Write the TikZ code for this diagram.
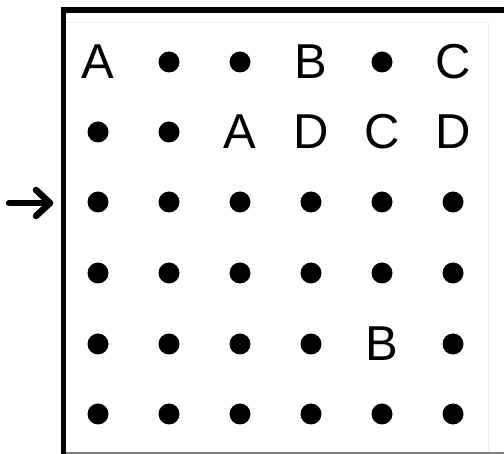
\documentclass[tikz,border=0pt]{standalone}
\usepackage{fontspec}
\setmainfont{Liberation Sans}

\tikzset{
  letter/.style={inner sep=0pt, font=\fontsize{49}{49}\selectfont},
  dotcell/.style={circle, fill=black, inner sep=0pt, minimum size=21pt},
  rowarrow/.style={line width=6.5pt, line cap=round, line join=round}
}

\begin{document}
\begin{tikzpicture}[x=1pt, y=-1pt]

    % canvas
    \useasboundingbox (0,0) rectangle (504,454);

    % frame
    \draw[black!6, line width=0.8pt] (66,22) -- (488,22) -- (488,452);
    \draw[line width=5.5pt] (504,10) -- (63.5,10) -- (63.5,454);
    \draw[gray, line width=1.2pt] (66,453) -- (504,453);

    % row marker
    \coordinate (arrowtail) at (9,203);
    \coordinate (arrowtip) at (50,203);
    \draw[rowarrow] (arrowtail) -- (arrowtip);
    \draw[rowarrow] (arrowtip) ++(-14,-13) -- (arrowtip) -- ++(-14,13);

    % grid, row by row
    \foreach \sty/\txt [count=\i from 0] in {letter/A, dotcell/, dotcell/, letter/B, dotcell/, letter/C}
        \node[\sty] (r0c\i) at (98+\i*71, 62) {\txt};
    \foreach \sty/\txt [count=\i from 0] in {dotcell/, dotcell/, letter/A, letter/D, letter/C, letter/D}
        \node[\sty] (r1c\i) at (98+\i*71, 132) {\txt};
    \foreach \sty/\txt [count=\i from 0] in {dotcell/, dotcell/, dotcell/, dotcell/, dotcell/, dotcell/}
        \node[\sty] (r2c\i) at (98+\i*71, 202) {\txt};
    \foreach \sty/\txt [count=\i from 0] in {dotcell/, dotcell/, dotcell/, dotcell/, dotcell/, dotcell/}
        \node[\sty] (r3c\i) at (98+\i*71, 273) {\txt};
    \foreach \sty/\txt [count=\i from 0] in {dotcell/, dotcell/, dotcell/, dotcell/, letter/B, dotcell/}
        \node[\sty] (r4c\i) at (98+\i*71, 344) {\txt};
    \foreach \sty/\txt [count=\i from 0] in {dotcell/, dotcell/, dotcell/, dotcell/, dotcell/, dotcell/}
        \node[\sty] (r5c\i) at (98+\i*71, 414) {\txt};

\end{tikzpicture}
\end{document}
